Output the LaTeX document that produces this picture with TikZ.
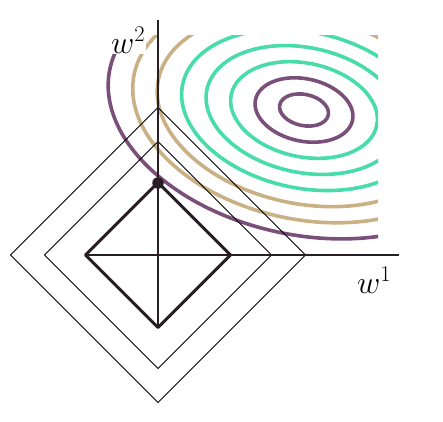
\RequirePackage{fix-cm}
\documentclass[tikz,border=0pt]{standalone}
\usepackage{tikz}
\usetikzlibrary{
  positioning
}
\definecolor{PlumLine}{RGB}{122, 80, 122}
\definecolor{SandLine}{RGB}{202, 177, 133}
\definecolor{MintLine}{RGB}{72, 220, 168}
\definecolor{InkDark}{RGB}{40, 30, 36}
\tikzset{
    contour/.style={line width=3.6pt},
    axisline/.style={draw=InkDark, line width=2.3pt},
    normbox/.style={draw=black, line width=0.8pt, line join=miter},
    unitbox/.style={draw=InkDark, line width=3pt, line join=round},
    axislabel/.style={fill=white, inner sep=1pt, anchor=base west, font=\fontsize{32}{38}\selectfont}
}

\begin{document}
\begin{tikzpicture}[x=1pt, y=-1pt]
                \useasboundingbox (0,0) rectangle (443,421);
                \coordinate (centre) at (304,110);
                \begin{scope}
                    \clip (0,35) rectangle (378,421);
                    \begin{scope}[shift={(centre)}, rotate=-12]
                        \draw[contour, PlumLine] (0,0) ellipse [x radius=24.8pt, y radius=15.6pt];
                        \draw[contour, PlumLine] (0,0) ellipse [x radius=49.6pt, y radius=31.2pt];
                        \draw[contour, MintLine] (0,0) ellipse [x radius=74.4pt, y radius=46.8pt];
                        \draw[contour, MintLine] (0,0) ellipse [x radius=99.2pt, y radius=62.4pt];
                        \draw[contour, MintLine] (0,0) ellipse [x radius=124pt, y radius=78pt];
                        \draw[contour, SandLine] (0,0) ellipse [x radius=148.8pt, y radius=93.6pt];
                        \draw[contour, SandLine] (0,0) ellipse [x radius=173.6pt, y radius=109.2pt];
                        \draw[contour, PlumLine] (0,0) ellipse [x radius=198.4pt, y radius=124.8pt];
                    \end{scope}
                \end{scope}
                \node[axislabel] (wtwo) at (110,53) {$w^2$};
                \node[axislabel] (wone) at (356,293) {$w^1$};
                \draw[normbox] (158,107.5) -- (305.5,255) -- (158,402.5) -- (10.5,255) -- cycle;
                \draw[normbox] (158,141.5) -- (271.5,255) -- (158,368.5) -- (44.5,255) -- cycle;
                \coordinate (ytop) at (158,20);
                \coordinate (ybot) at (158,327.5);
                \coordinate (xleft) at (85.5,255);
                \coordinate (xright) at (399,255);
                \draw[axisline] (xleft) -- (xright);
                \draw[axisline] (ytop) -- (ybot);
                \draw[unitbox] (158,182.5) -- (230.5,255) -- (158,327.5) -- (85.5,255) -- cycle;
                \node[circle, fill=InkDark, inner sep=0pt, minimum size=11.5pt] (optimum) at (158,183) {};
            \end{tikzpicture}
\end{document}
